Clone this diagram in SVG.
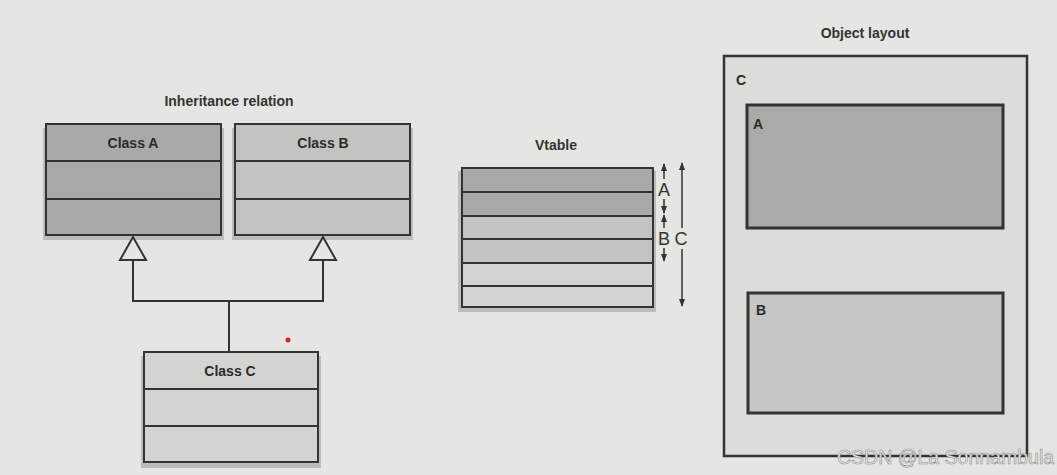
<svg xmlns="http://www.w3.org/2000/svg" width="1057" height="475" viewBox="0 0 1057 475">
<defs>
<style>
.t{font-family:"Liberation Sans",Arial,sans-serif;font-size:14px;fill:#333;font-weight:bold;}
.lbl{font-family:"Liberation Sans",Arial,sans-serif;font-size:14px;fill:#2a2a2a;font-weight:bold;}
.box{stroke:#333;stroke-width:2;}
.sh{fill:#9a9a9a;opacity:0.55;}
.ln{stroke:#333;stroke-width:2;fill:none;}
.dk{fill:#a9a9a7;}
.md{fill:#c3c3c1;}
.lt{fill:#d3d3d1;}
.thin{stroke:#333;stroke-width:1.5;fill:none;}
.big{font-family:"Liberation Sans",Arial,sans-serif;font-size:18px;fill:#333;}
</style>
<marker id="ah" viewBox="0 0 8 6" refX="7" refY="3" markerWidth="8" markerHeight="6" orient="auto-start-reverse" markerUnits="userSpaceOnUse">
<path d="M0,0 L8,3 L0,6 Z" fill="#333"/>
</marker>
</defs>
<rect width="1057" height="475" fill="#e5e5e3"/>

<text class="t" x="229" y="106" text-anchor="middle">Inheritance relation</text>

<g id="classA">
<rect class="sh" x="43" y="128" width="181" height="112"/>
<rect class="box dk" x="46" y="124" width="175" height="111"/>
<line class="ln" x1="46" y1="161" x2="221" y2="161"/>
<line class="ln" x1="46" y1="199" x2="221" y2="199"/>
<text class="lbl" x="133" y="148" text-anchor="middle">Class A</text>
</g>

<g id="classB">
<rect class="sh" x="232" y="128" width="181" height="112"/>
<rect class="box md" x="235" y="124" width="175" height="111"/>
<line class="ln" x1="235" y1="161" x2="410" y2="161"/>
<line class="ln" x1="235" y1="199" x2="410" y2="199"/>
<text class="lbl" x="323" y="148" text-anchor="middle">Class B</text>
</g>

<g id="classC">
<rect class="sh" x="141" y="356" width="180" height="112"/>
<rect class="box lt" x="144" y="352" width="174" height="110"/>
<line class="ln" x1="144" y1="389" x2="318" y2="389"/>
<line class="ln" x1="144" y1="426" x2="318" y2="426"/>
<text class="lbl" x="230" y="376" text-anchor="middle">Class C</text>
</g>

<g id="connectors">
<polyline class="ln" points="133,260 133,301 323,301 323,260"/>
<line class="ln" x1="229" y1="301" x2="229" y2="352"/>
<polygon points="133,237 120,260 146,260" fill="#e5e5e3" stroke="#333" stroke-width="2"/>
<polygon points="323,237 310,260 336,260" fill="#e5e5e3" stroke="#333" stroke-width="2"/>
</g>

<circle cx="288" cy="340" r="2.5" fill="#e02020"/>

<text class="t" x="556" y="150" text-anchor="middle">Vtable</text>

<g id="vtable">
<rect class="sh" x="458" y="171" width="198" height="141"/>
<rect class="dk" x="462" y="168" width="191" height="48"/>
<rect class="md" x="462" y="216" width="191" height="47"/>
<rect class="lt" x="462" y="263" width="191" height="44"/>
<rect x="462" y="168" width="191" height="139" fill="none" stroke="#333" stroke-width="2"/>
<line class="ln" x1="462" y1="192" x2="653" y2="192"/>
<line class="ln" x1="462" y1="216" x2="653" y2="216"/>
<line class="ln" x1="462" y1="239" x2="653" y2="239"/>
<line class="ln" x1="462" y1="263" x2="653" y2="263"/>
<line class="ln" x1="462" y1="286" x2="653" y2="286"/>
</g>

<g id="vtable-arrows">
<line class="thin" x1="664" y1="164" x2="664" y2="179" marker-start="url(#ah)"/>
<line class="thin" x1="664" y1="199" x2="664" y2="213" marker-end="url(#ah)"/>
<line class="thin" x1="664" y1="215" x2="664" y2="228" marker-start="url(#ah)"/>
<line class="thin" x1="664" y1="248" x2="664" y2="261" marker-end="url(#ah)"/>
<line class="thin" x1="682" y1="163" x2="682" y2="228" marker-start="url(#ah)"/>
<line class="thin" x1="682" y1="249" x2="682" y2="306" marker-end="url(#ah)"/>
<text class="big" x="664" y="196" text-anchor="middle">A</text>
<text class="big" x="664" y="245" text-anchor="middle">B</text>
<text class="big" x="681" y="245" text-anchor="middle">C</text>
</g>

<text class="t" x="865" y="38" text-anchor="middle">Object layout</text>

<g id="objectC">
<rect x="724" y="56" width="303" height="400" fill="#dcdcda" stroke="#333" stroke-width="2.5"/>
<text class="lbl" x="736" y="85">C</text>
</g>
<g id="objectA">
<rect x="747" y="105" width="256" height="123" fill="#aaaaa8" stroke="#333" stroke-width="3"/>
<text class="lbl" x="753" y="129">A</text>
</g>
<g id="objectB">
<rect x="748" y="293" width="255" height="120" fill="#c6c6c4" stroke="#333" stroke-width="3"/>
<text class="lbl" x="756" y="315">B</text>
</g>

<text x="837" y="464" font-family="Liberation Sans, Arial, sans-serif" font-size="19.5" fill="#f2f2f2" stroke="#8a8a8a" stroke-width="0.6">CSDN @La Sonnambula</text>
</svg>
